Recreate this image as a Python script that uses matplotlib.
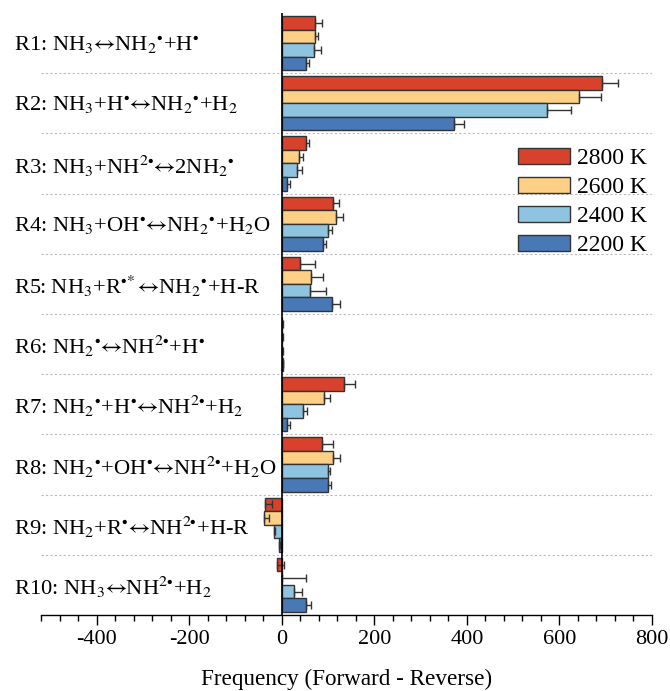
import matplotlib
matplotlib.use("Agg")
import matplotlib.pyplot as plt
import numpy as np

plt.rcParams['font.family'] = ['Liberation Serif', 'DejaVu Serif']
plt.rcParams['mathtext.fontset'] = 'stix'
plt.rcParams['axes.unicode_minus'] = False

# Reaction labels (top to bottom)
reactions = [
    r'R1: NH$_3$$↔$NH$_2$$^{∙}$+H$^{∙}$',
    r'R2: NH$_3$+H$^{∙}$$↔$NH$_2$$^{∙}$+H$_2$',
    r'R3: NH$_3$+NH$^{2∙}$$↔$2NH$_2$$^{∙}$',
    r'R4: NH$_3$+OH$^{∙}$$↔$NH$_2$$^{∙}$+H$_2$O',
    r'R5: NH$_3$+R$^{∙\!*}$$↔$NH$_2$$^{∙}$+H-R',
    r'R6: NH$_2$$^{∙}$$↔$NH$^{2∙}$+H$^{∙}$',
    r'R7: NH$_2$$^{∙}$+H$^{∙}$$↔$NH$^{2∙}$+H$_2$',
    r'R8: NH$_2$$^{∙}$+OH$^{∙}$$↔$NH$^{2∙}$+H$_2$O',
    r'R9: NH$_2$+R$^{∙}$$↔$NH$^{2∙}$+H-R',
    r'R10: NH$_3$$↔$NH$^{2∙}$+H$_2$',
]

temps = ['2800 K', '2600 K', '2400 K', '2200 K']
colors = ['#D8412B', '#FDD085', '#8EC4E0', '#4878B6']

# net frequency per reaction, one list per temperature
freq_2800 = [73, 691, 52, 111, 39, 1.5, 135, 88, -35, -11]
freq_2600 = [71, 643, 37, 117, 64, 1, 92, 111, -39, 1]
freq_2400 = [69, 574, 33, 99, 62, 1.5, 46, 100, -17, 26]
freq_2200 = [53, 373, 11, 89, 108, 2, 11, 100, -6, 52]

err_2800 = [14, 36, 7, 13, 32, 1, 23, 22, 13, 15]
err_2600 = [8, 46, 9, 16, 25, 1, 12, 16, 11, 52]
err_2400 = [16, 50, 10, 10, 33, 1, 9, 5, 2, 17]
err_2200 = [5, 21, 8, 6, 17, 1, 6, 6, 2, 12]

freqs = [freq_2800, freq_2600, freq_2400, freq_2200]
errs = [err_2800, err_2600, err_2400, err_2200]

fig = plt.figure(figsize=(6.70, 6.91), dpi=100)
ax = fig.add_axes([41 / 670, 1 - 615 / 691, 611 / 670, 602 / 691])

y = np.arange(len(reactions))
h = 0.225
for k in range(4):
    pos = y + (k - 1.5) * h
    e = np.array(errs[k])
    ax.barh(pos, freqs[k], height=h, color=colors[k], edgecolor='#333333',
            linewidth=1.0, label=temps[k], zorder=2)
    ax.errorbar(freqs[k], pos, xerr=[np.zeros_like(e), e], fmt='none',
                ecolor='#333333', elinewidth=1.0, capsize=2.6, capthick=1.0, zorder=3)

# dashed separators between reactions
for i in range(len(reactions) - 1):
    ax.axhline(i + 0.5, color='#BBBBBB', linestyle=(0, (2, 2)), linewidth=0.8, zorder=1)

ax.axvline(0, color='black', linewidth=1.2, zorder=4)

ax.set_ylim(len(reactions) - 0.5, -0.5)
ax.set_xlim(-520, 800)
ax.set_xticks([-400, -200, 0, 200, 400, 600, 800])
ax.set_xticks(np.arange(-520, 801, 40), minor=True)
ax.tick_params(axis='x', which='major', length=7, width=1, labelsize=16, pad=4)
ax.tick_params(axis='x', which='minor', length=4, width=1)

ax.set_yticks(y)
ax.set_yticklabels(reactions, ha='left', fontsize=16.2)
ax.tick_params(axis='y', length=0, pad=19.5)

for s in ['top', 'right', 'left']:
    ax.spines[s].set_visible(False)
ax.spines['bottom'].set_linewidth(1.0)

ax.set_xlabel('Frequency (Forward - Reverse)', fontsize=16.7, labelpad=14)

fig.legend(loc='upper left', bbox_to_anchor=(518 / 670, 1 - 148 / 691),
           frameon=False, fontsize=17, handlelength=2.2, handleheight=0.65,
           handletextpad=0.3, labelspacing=0.33, borderpad=0, borderaxespad=0)

fig.savefig('out.png', dpi=100)
